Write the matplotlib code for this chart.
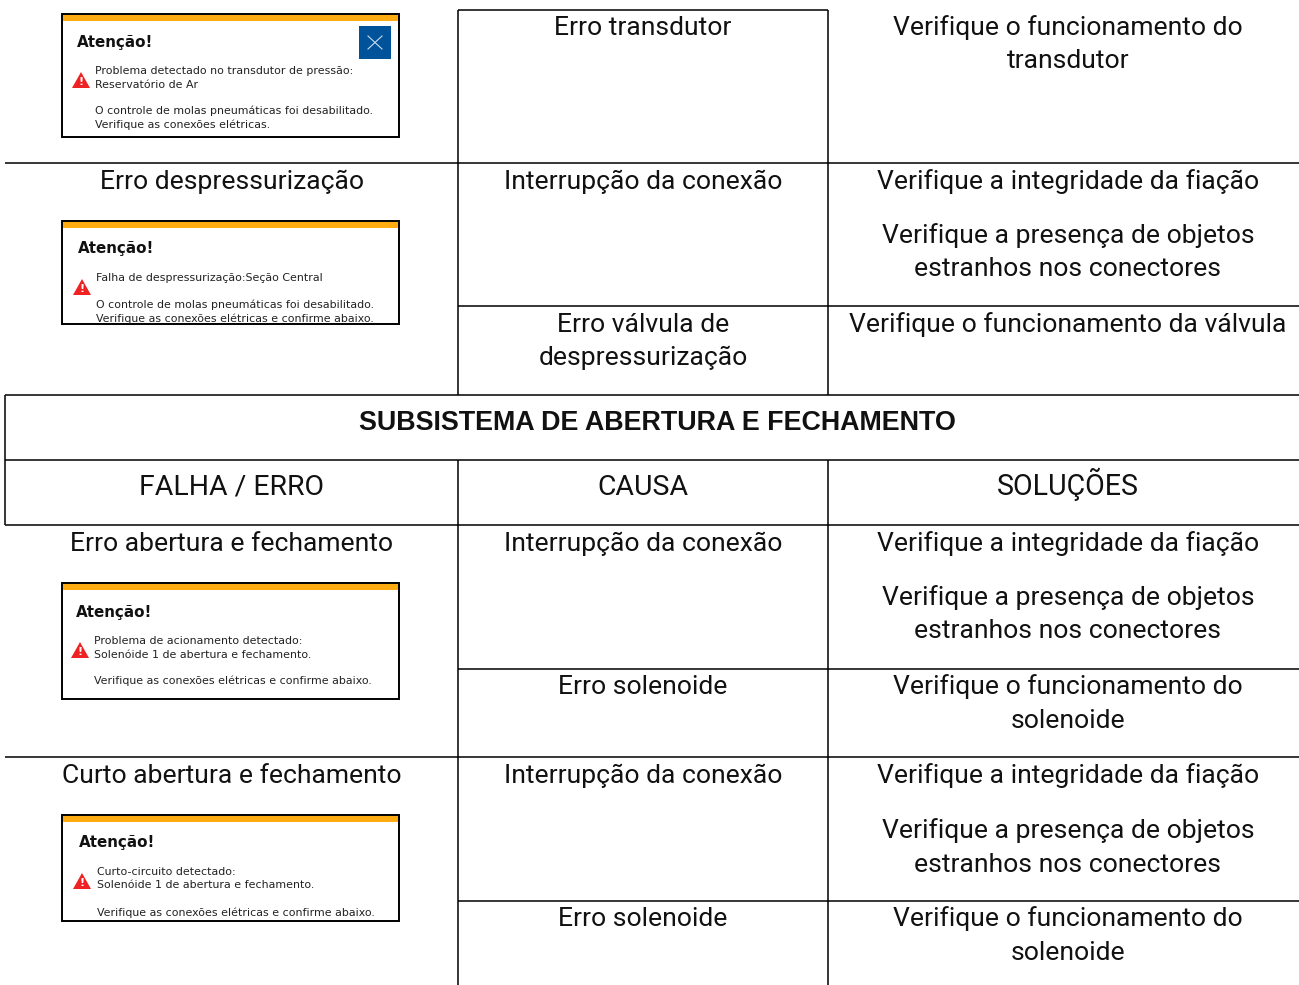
import matplotlib
matplotlib.use("Agg")
import matplotlib.pyplot as plt
from matplotlib.patches import Rectangle, Polygon

# table text
section_title = "SUBSISTEMA DE ABERTURA E FECHAMENTO"
headers = ["FALHA / ERRO", "CAUSA", "SOLUÇÕES"]
faults = ["Erro despressurização", "Erro abertura e fechamento", "Curto abertura e fechamento"]
causes = ["Erro transdutor", "Interrupção da conexão", "Erro válvula de\ndespressurização",
          "Interrupção da conexão", "Erro solenoide", "Interrupção da conexão", "Erro solenoide"]
solutions = ["Verifique o funcionamento do\ntransdutor",
             "Verifique a integridade da fiação",
             "Verifique a presença de objetos\nestranhos nos conectores",
             "Verifique o funcionamento da válvula",
             "Verifique a integridade da fiação",
             "Verifique a presença de objetos\nestranhos nos conectores",
             "Verifique o funcionamento do\nsolenoide",
             "Verifique a integridade da fiação",
             "Verifique a presença de objetos\nestranhos nos conectores",
             "Verifique o funcionamento do\nsolenoide"]

# dialog messages
dialog_msgs = ["Problema detectado no transdutor de pressão:\nReservatório de Ar\n\nO controle de molas pneumáticas foi desabilitado.\nVerifique as conexões elétricas.",
               "Falha de despressurização:Seção Central\n\nO controle de molas pneumáticas foi desabilitado.\nVerifique as conexões elétricas e confirme abaixo.",
               "Problema de acionamento detectado:\nSolenóide 1 de abertura e fechamento.\n\nVerifique as conexões elétricas e confirme abaixo.",
               "Curto-circuito detectado:\nSolenóide 1 de abertura e fechamento.\n\nVerifique as conexões elétricas e confirme abaixo."]

FONT = "Roboto"
SIZE = 19.05
W, H = 1299, 985

fig = plt.figure(figsize=(W / 100, H / 100), dpi=100)
ax = fig.add_axes([0, 0, 1, 1])
ax.set_xlim(0, W)
ax.set_ylim(H, 0)
ax.axis('off')


def hline(y, x0, x1):
    ax.plot([x0, x1], [y, y], color='black', lw=1.1, solid_capstyle='butt')


def vline(x, y0, y1):
    ax.plot([x, x], [y0, y1], color='black', lw=1.1, solid_capstyle='butt')


def cell(x, y, s, size=SIZE, weight='normal', family=FONT):
    # y is the baseline of the first line
    for i, line in enumerate(s.split("\n")):
        ax.text(x, y + i * 33.5, line, ha='center', va='baseline', fontsize=size, family=family,
                weight=weight, color='#111111')


def dialog(x0, y0, x1, y1, msg, tx, ty, title_x, title_y, icon_x, icon_y, close=False):
    ax.add_patch(Rectangle((x0, y0), x1 - x0, y1 - y0, fc='white', ec='black', lw=1.4, zorder=3))
    ax.add_patch(Rectangle((x0 + 1, y0 + 1), x1 - x0 - 2, 6, fc='#FFAC12', ec='none', zorder=4))
    ax.text(title_x, title_y, "Atenção!", fontsize=10.9, weight='bold', family='DejaVu Sans',
            va='center', ha='left', zorder=5, color='#111111')
    for i, line in enumerate(msg.split("\n")):
        ax.text(tx, ty + i * 13.5, line, fontsize=7.95, family='DejaVu Sans', va='baseline', ha='left',
                zorder=5, color='#222222')
    ax.add_patch(Polygon([[icon_x - 9, icon_y + 8], [icon_x + 9, icon_y + 8], [icon_x, icon_y - 8]],
                         fc='#EE2222', ec='none', zorder=5))
    ax.text(icon_x, icon_y + 2, "!", color='white', fontsize=8, weight='bold', ha='center',
            va='center', zorder=6)
    if close:
        ax.add_patch(Rectangle((359, 26), 32, 33, fc='#00529B', ec='none', zorder=5))
        ax.plot([368, 382], [36, 49], color='#C8DDF0', lw=0.8, zorder=6)
        ax.plot([368, 382], [49, 36], color='#C8DDF0', lw=0.8, zorder=6)


# grid lines
hline(10, 458, 828)
hline(163, 5, 1299)
hline(306, 458, 1299)
hline(395, 5, 1299)
hline(460, 5, 1299)
hline(525, 5, 1299)
hline(669, 458, 1299)
hline(757, 5, 1299)
hline(901, 458, 1299)
vline(5, 395, 525)
vline(458, 10, 395)
vline(458, 460, 985)
vline(828, 10, 395)
vline(828, 460, 985)

# section title and headers
cell(657, 430, section_title, size=19.4, weight='bold', family='Liberation Sans')
cell(232, 495, headers[0], size=20.4)
cell(643, 495, headers[1], size=20.4)
cell(1068, 495, headers[2], size=20.6)

# left column
cell(232, 189, faults[0])
cell(232, 551, faults[1])
cell(232, 783, faults[2])

# middle column
cause_y = [35, 189, 332, 551, 694, 783, 926]
for s, y in zip(causes, cause_y):
    cell(643, y, s)

# right column
solution_y = [35, 189, 243, 332, 551, 605, 694, 783, 838, 926]
for s, y in zip(solutions, solution_y):
    cell(1068, y, s)

# dialogs
dialog(62, 14, 399, 137, dialog_msgs[0], 95, 74, 77, 42, 81, 80, close=True)
dialog(62, 221, 399, 324, dialog_msgs[1], 96, 281, 78, 248, 82, 287)
dialog(62, 583, 399, 699, dialog_msgs[2], 94, 644, 76, 612, 80, 650)
dialog(62, 815, 399, 921, dialog_msgs[3], 97, 875, 79, 842, 82, 881)

fig.savefig("out.png", dpi=100)
